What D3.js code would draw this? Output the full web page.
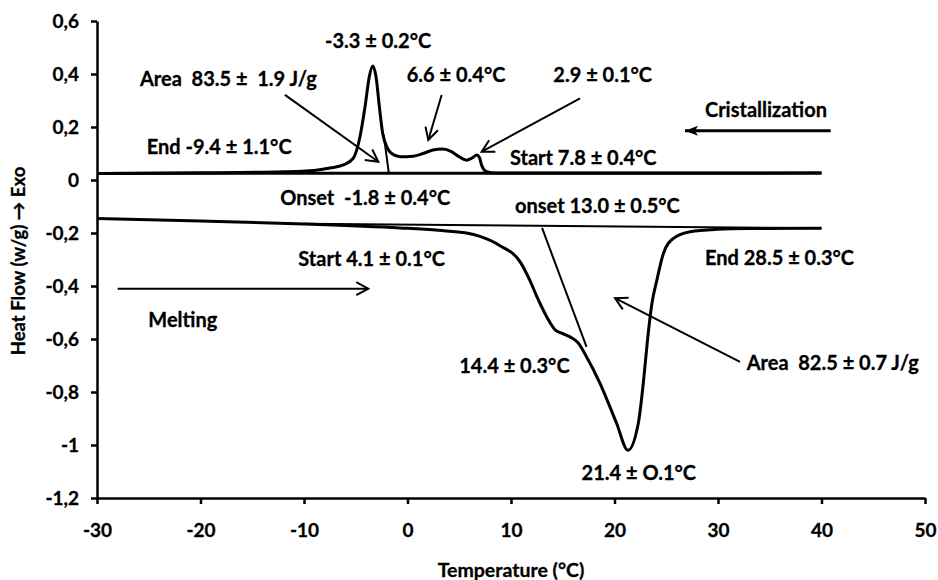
<!DOCTYPE html>
<html>
<head>
<meta charset="utf-8">
<script src="https://cdn.jsdelivr.net/npm/d3@7"></script>
<style>
  body { margin: 0; background: #fff; }
  svg text { font-family: Lato, "Open Sans", sans-serif; font-weight: bold; fill: #000; white-space: pre; }
</style>
</head>
<body>
<div class="chart"></div>
<script>
const margin = { top: 21, right: 13, bottom: 82, left: 97 };
const width = 938 - margin.left - margin.right;
const height = 580 - margin.top - margin.bottom;

// crystallization (cooling) trace
const crystTemp = [-30, -20, -12, -9, -7.5, -6.2, -5.24, -4.59, -4.1, -3.69, -3.36, -3.04, -2.72, -2.4, -2.01, -1.53, -0.72, 0.55, 1.5, 2.46, 3.4, 4.2, 4.75, 5.7, 6.2, 6.7, 6.95, 7.15, 7.65, 8.5, 15, 40];
const crystFlow = [0.025, 0.027, 0.031, 0.036, 0.045, 0.057, 0.082, 0.163, 0.277, 0.39, 0.43, 0.39, 0.277, 0.176, 0.126, 0.10, 0.088, 0.09, 0.10, 0.113, 0.117, 0.108, 0.094, 0.075, 0.082, 0.094, 0.085, 0.057, 0.031, 0.026, 0.026, 0.026];

// melting (heating) trace
const meltTemp = [-30, -20, -10, -0.72, 3, 5.7, 7.0, 8.9, 10.9, 11.8, 12.5, 13.8, 14.25, 14.9, 15.7, 16.5, 17.2, 18.6, 20.2, 21.3, 22.3, 22.8, 23.2, 23.6, 24.1, 24.7, 25.7, 27.3, 29.9, 33, 40];
const meltFlow = [-0.145, -0.155, -0.166, -0.181, -0.19, -0.2, -0.213, -0.247, -0.31, -0.377, -0.44, -0.54, -0.565, -0.578, -0.592, -0.615, -0.66, -0.767, -0.918, -1.02, -0.918, -0.76, -0.60, -0.47, -0.377, -0.28, -0.22, -0.195, -0.186, -0.183, -0.182];

// baselines and tangents [t1, hf1, t2, hf2]
const helperLines = [
    [-30, 0.025, 40, 0.026],      // crystallization baseline
    [-10, -0.165, 40, -0.182],    // melting baseline
    [-1.8, 0.025, -2.3, 0.17],    // crystallization onset tangent
    [13.0, -0.181, 17.3, -0.63]   // melting onset tangent
];

// arrows [t1, hf1, t2, hf2, head]
const arrows = [
    [-11.84, 0.321, -2.82, 0.069, "open"],
    [3.30, 0.321, 2.01, 0.151, "open"],
    [16.67, 0.308, 7.17, 0.107, "open"],
    [40.89, 0.186, 26.81, 0.186, "solid"],
    [-28.0, -0.41, -3.79, -0.41, "open"],
    [32.13, -0.686, 20.05, -0.446, "open"]
];

// labels [text, t, hf] (left edge, baseline)
const labels = [
    ["-3.3 ± 0.2°C", -7.97, 0.498],
    ["Area  83.5 ±  1.9 J/g", -25.85, 0.355],
    ["6.6 ± 0.4°C", -0.08, 0.371],
    ["2.9 ± 0.1°C", 14.09, 0.371],
    ["Cristallization", 28.74, 0.239],
    ["End -9.4 ± 1.1°C", -25.2, 0.098],
    ["Start 7.8 ± 0.4°C", 9.9, 0.057],
    ["Onset  -1.8 ± 0.4°C", -12.3, -0.094],
    ["onset 13.0 ± 0.5°C", 10.39, -0.126],
    ["Start 4.1 ± 0.1°C", -10.55, -0.325],
    ["End 28.5 ± 0.3°C", 28.74, -0.321],
    ["Melting", -25.04, -0.556],
    ["14.4 ± 0.3°C", 5.0, -0.727],
    ["Area  82.5 ± 0.7 J/g", 32.77, -0.717],
    ["21.4 ± O.1°C", 16.82, -1.132]
];

const xTicks = [-30, -20, -10, 0, 10, 20, 30, 40, 50];
const yTicks = [0.6, 0.4, 0.2, 0, -0.2, -0.4, -0.6, -0.8, -1, -1.2];

const svg = d3.select('.chart')
    .append('svg')
    .attr('width', width + margin.left + margin.right)
    .attr('height', height + margin.top + margin.bottom)
    .append('g')
    .attr('transform', `translate(${margin.left},${margin.top})`);

const x_scale = d3.scaleLinear().domain([-30, 50]).range([0, width]);
const y_scale = d3.scaleLinear().domain([-1.2, 0.6]).range([height, 0]);

// arrow heads
const defs = svg.append("defs");
defs.append("marker")
    .attr("id", "open")
    .attr("viewBox", "-15 -9 18 18")
    .attr("markerWidth", 18).attr("markerHeight", 18)
    .attr("markerUnits", "userSpaceOnUse")
    .attr("refX", 0).attr("refY", 0)
    .attr("orient", "auto")
    .append("path")
    .attr("d", "M-12,-6.5L0,0L-12,6.5")
    .attr("fill", "none").attr("stroke", "#000").attr("stroke-width", 2);
defs.append("marker")
    .attr("id", "solid")
    .attr("viewBox", "-15 -9 18 18")
    .attr("markerWidth", 18).attr("markerHeight", 18)
    .attr("markerUnits", "userSpaceOnUse")
    .attr("refX", 0).attr("refY", 0)
    .attr("orient", "auto")
    .append("path")
    .attr("d", "M-13,-5L0,0L-13,5L-10,0Z")
    .attr("fill", "#000");

// axes
const fmt = d => String(+d.toFixed(1)).replace(".", ",");

const yAxis = svg.append("g")
    .attr("class", "y_axis")
    .call(d3.axisLeft(y_scale).tickValues(yTicks).tickFormat(fmt).tickSize(6).tickSizeOuter(0).tickPadding(12));

const xAxis = svg.append("g")
    .attr("class", "x_axis")
    .attr("transform", "translate(0," + height + ")")
    .call(d3.axisBottom(x_scale).tickValues(xTicks).tickFormat(d => String(d)).tickSize(6).tickSizeOuter(0));

svg.selectAll(".y_axis text, .x_axis text")
    .style("font-size", "19px");
xAxis.selectAll("text").attr("y", 39).attr("dy", 0);
svg.selectAll(".domain").attr("stroke", "#000").attr("stroke-width", 2.5);
svg.selectAll(".tick line").attr("stroke", "#000").attr("stroke-width", 2.5);

svg.append("text")
    .attr("x", width / 2)
    .attr("y", height + 79)
    .attr("text-anchor", "middle")
    .style("font-size", "19.5px")
    .text("Temperature (°C)");

svg.append("text")
    .attr("transform", `translate(${19 - margin.left},${261 - margin.top}) rotate(-90)`)
    .attr("text-anchor", "middle")
    .attr("dy", "0.35em")
    .style("font-size", "18.5px")
    .text("Heat Flow (w/g) → Exo");

// helper lines
svg.selectAll("line.helper")
    .data(helperLines)
    .enter()
    .append("line")
    .attr("class", "helper")
    .attr("x1", d => x_scale(d[0]))
    .attr("y1", d => y_scale(d[1]))
    .attr("x2", d => x_scale(d[2]))
    .attr("y2", d => y_scale(d[3]))
    .attr("stroke", "#000")
    .attr("stroke-width", (d, i) => i == 0 ? 3 : 2);

// traces
const line = d3.line()
    .x(d => x_scale(d[0]))
    .y(d => y_scale(d[1]))
    .curve(d3.curveMonotoneX);

[[crystTemp, crystFlow], [meltTemp, meltFlow]].forEach(function(s) {
    svg.append("path")
        .datum(s[0].map((t, i) => [t, s[1][i]]))
        .attr("d", line)
        .attr("fill", "none")
        .attr("stroke", "#000")
        .attr("stroke-width", 3)
        .attr("stroke-linejoin", "round");
});

// arrows
svg.selectAll("line.arrow")
    .data(arrows)
    .enter()
    .append("line")
    .attr("class", "arrow")
    .attr("x1", d => x_scale(d[0]))
    .attr("y1", d => y_scale(d[1]))
    .attr("x2", d => x_scale(d[2]))
    .attr("y2", d => y_scale(d[3]))
    .attr("stroke", "#000")
    .attr("stroke-width", d => d[4] == "solid" ? 3 : 2)
    .attr("marker-end", d => `url(#${d[4]})`);

// labels
svg.selectAll("text.label")
    .data(labels)
    .enter()
    .append("text")
    .attr("class", "label")
    .attr("x", d => x_scale(d[1]))
    .attr("y", d => y_scale(d[2]))
    .style("font-size", "20px")
    .text(d => d[0]);

// slightly heavier strokes on all text, closer to the original bold face
svg.selectAll("text")
    .attr("stroke", "#000")
    .attr("stroke-width", 0.3);
</script>
</body>
</html>
